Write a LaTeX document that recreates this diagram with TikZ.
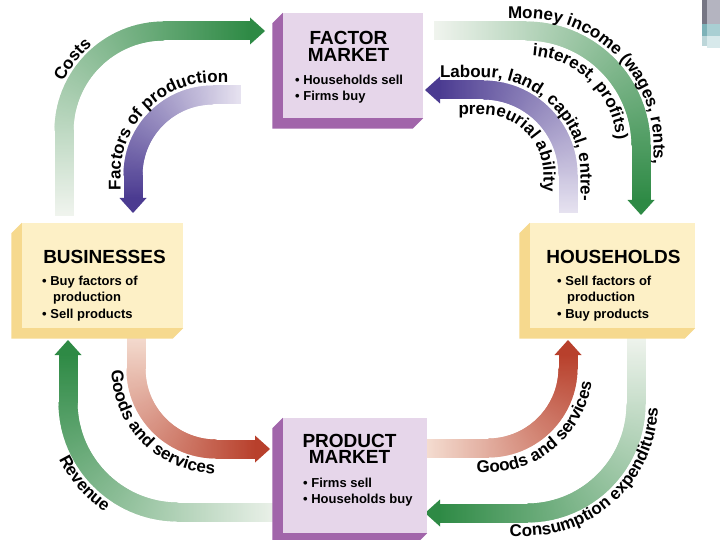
\documentclass[tikz,border=0pt]{standalone}
\usepackage{fontspec}
\setmainfont{Liberation Sans}
\usetikzlibrary{decorations.markings,decorations.text,calc}
\definecolor{gdark}{HTML}{2E8A45}
\definecolor{gpale}{HTML}{F0F4EE}
\definecolor{pdark}{HTML}{4B3B91}
\definecolor{ppale}{HTML}{E6E2F0}
\definecolor{rdark}{HTML}{B8402C}
\definecolor{rpale}{HTML}{F4DCD0}
\definecolor{mkfront}{HTML}{E6D6EA}
\definecolor{mkside}{HTML}{A165AA}
\definecolor{agfront}{HTML}{FDF0C6}
\definecolor{agside}{HTML}{F6D98E}
\newcommand{\lblf}{\fontsize{17pt}{17pt}\selectfont\bfseries}
\tikzset{
  band/.style n args={2}{postaction={decorate, decoration={markings,
     mark=between positions 0 and 1 step 1.2pt with {
       \pgfmathsetmacro{\fr}{min(100,max(0,100*(\pgfkeysvalueof{/pgf/decoration/mark info/distance from start}/\pgfdecoratedpathlength)))}
       \fill[#2!\fr!#1] (-1pt,-9.5pt) rectangle (1pt,9.5pt);
     }
  }}},
  lbl/.style={decorate, decoration={text along path, text align=center, text={|\lblf|#1}}},
  front/.style={draw=none, inner sep=0pt, minimum width=#1},
  ttl/.style={inner sep=0pt, anchor=base, font=\fontsize{19pt}{19pt}\selectfont\bfseries},
  bul/.style={inner sep=0pt, anchor=base west, font=\fontsize{13pt}{13pt}\selectfont\bfseries},
}
\begin{document}
\begin{tikzpicture}[x=1pt,y=1pt]
\useasboundingbox (0,0) rectangle (720,-540);
\fill[white] (0,0) rectangle (720,-540);
% slide decoration (top right)
\fill[fill={rgb,255:red,118;green,118;blue,132}] (702,0) rectangle (707,-24);
\fill[fill={rgb,255:red,180;green,180;blue,192}] (707,0) rectangle (720,-24);
\fill[fill={rgb,255:red,125;green,178;blue,184}] (702,-24) rectangle (707,-36);
\fill[fill={rgb,255:red,169;green,207;blue,211}] (707,-24) rectangle (720,-36);
\fill[fill={rgb,255:red,188;green,214;blue,217}] (702,-36) rectangle (707,-46);
\fill[fill={rgb,255:red,215;green,233;blue,235}] (707,-36) rectangle (720,-48);

% ---- bands ----
\coordinate (csS) at (64,-215);   \coordinate (csE) at (251,-31);
\coordinate (fpS) at (240,-95);   \coordinate (fpE) at (133,-199);
\coordinate (miS) at (435,-31);   \coordinate (miE) at (641,-201);
\coordinate (lbS) at (568,-212);  \coordinate (lbE) at (439,-90);
\coordinate (glS) at (136,-336);  \coordinate (glE) at (256,-449);
\coordinate (rvS) at (284,-512);  \coordinate (rvE) at (68,-354);
\coordinate (grS) at (428,-448);  \coordinate (grE) at (568,-354);
\coordinate (ceS) at (636,-336);  \coordinate (ceE) at (439,-513);

\path[band={gpale}{gdark}] (csS) -- (64,-131) arc[start angle=180,end angle=90,radius=100] -- (csE);
\path[band={ppale}{pdark}] (fpS) -- (213,-95) arc[start angle=90,end angle=180,radius=80] -- (fpE);
\path[band={gpale}{gdark}] (miS) -- (526,-31) arc[start angle=90,end angle=0,radius=115] -- (miE);
\path[band={ppale}{pdark}] (lbS) -- (568,-175) arc[start angle=0,end angle=90,radius=85] -- (lbE);
\path[band={rpale}{rdark}] (glS) -- (136,-369) arc[start angle=180,end angle=270,radius=80] -- (glE);
\path[band={gpale}{gdark}] (rvS) -- (178,-512) arc[start angle=270,end angle=180,radius=110] -- (rvE);
\path[band={rpale}{rdark}] (grS) -- (488,-448) arc[start angle=270,end angle=360,radius=80] -- (grE);
\path[band={gpale}{gdark}] (ceS) -- (636,-404) arc[start angle=0,end angle=-90,radius=109] -- (ceE);

% ---- arrowheads ----
\fill[gdark] (csE) ++(-1,13.5) -- ++(15,-13.5) -- ++(-15,-13.5) -- cycle;
\fill[pdark] (fpE) ++(-13.5,1) -- ++(13.5,-15) -- ++(13.5,15) -- cycle;
\fill[gdark] (miE) ++(-13.5,1) -- ++(13.5,-15) -- ++(13.5,15) -- cycle;
\fill[pdark] (lbE) ++(1,13.5) -- ++(-15,-13.5) -- ++(15,-13.5) -- cycle;
\fill[rdark] (glE) ++(-1,13.5) -- ++(15,-13.5) -- ++(-15,-13.5) -- cycle;
\fill[gdark] (rvE) ++(-13.5,-1) -- ++(13.5,15) -- ++(13.5,-15) -- cycle;
\fill[rdark] (grE) ++(-13.5,-1) -- ++(13.5,15) -- ++(13.5,-15) -- cycle;
\fill[gdark] (ceE) ++(1,13.5) -- ++(-15,-13.5) -- ++(15,-13.5) -- cycle;

% ---- curved labels ----
\path[lbl={Costs}] (52,-131) arc[start angle=180,end angle=104,radius=112];
\path[lbl={Factors of production}] (120.5,-235) -- (120.5,-175) arc[start angle=180,end angle=90,radius=92.5] -- (273,-82.5);
\path[lbl={Money income (wages, rents,}] (466,-18.5) -- (526,-18.5) arc[start angle=90,end angle=0,radius=127.5] -- (653.5,-206);
\path[lbl={interest, profits)}] (486,-55.5) -- (526,-55.5) arc[start angle=90,end angle=0,radius=90.5] -- (616.5,-186);
\path[lbl={Labour, land, capital, entre-}] (413,-77.5) -- (483,-77.5) arc[start angle=90,end angle=0,radius=97.5] -- (580.5,-228);
\path[lbl={preneurial ability}] (443,-114.5) -- (483,-114.5) arc[start angle=90,end angle=0,radius=60.5] -- (543.5,-207);
\path[lbl={Goods and services}] (111.5,-339) -- (111.5,-369) arc[start angle=180,end angle=270,radius=104.5] -- (246,-473.5);
\path[lbl={Revenue}] (46,-402) arc[start angle=180,end angle=262,radius=132];
\path[lbl={Goods and services}] (448,-472.5) -- (488,-472.5) arc[start angle=270,end angle=360,radius=104.5] -- (592.5,-353.4);
\path[lbl={Consumption expenditures}] (486,-536) -- (526,-536) arc[start angle=270,end angle=360,radius=132] -- (658,-384);

% ---- boxes ----
\node[front=140pt, minimum height=105pt, fill=mkfront] (factor) at (353,-65.5) {};
\node[front=161pt, minimum height=105pt, fill=agfront] (bus) at (102.5,-275.5) {};
\node[front=165pt, minimum height=105pt, fill=agfront] (house) at (612.5,-275.5) {};
\node[front=144pt, minimum height=115pt, fill=mkfront] (product) at (355,-475.5) {};
\foreach \b/\c in {factor/mkside, bus/agside, house/agside, product/mkside}{
  \fill[\c] (\b.north west) -- ++(-10.5,-10.5) |- ($(\b.south east)+(-10.5,-10.5)$) -- (\b.south east) -- (\b.south west) -- cycle;
}

% ---- box texts ----
\node[ttl] (fa1) at (348.5,-45) {FACTOR};
\node[ttl] (fa2) at (348.5,-62) {MARKET};
\node[bul] (fa3) at (295,-85) {• Households sell};
\node[bul] (fa4) at (295,-101) {• Firms buy};

\node[ttl] (bu1) at (104.5,-263) {BUSINESSES};
\node[bul] (bu2) at (42,-285) {• Buy factors of};
\node[bul] (bu3) at (53,-301) {production};
\node[bul] (bu4) at (42,-318) {• Sell products};

\node[ttl] (ho1) at (613.5,-263) {HOUSEHOLDS};
\node[bul] (ho2) at (557,-285) {• Sell factors of};
\node[bul] (ho3) at (567,-301) {production};
\node[bul] (ho4) at (557,-318) {• Buy products};

\node[ttl] (pm1) at (349.5,-447) {PRODUCT};
\node[ttl] (pm2) at (349.5,-463.5) {MARKET};
\node[bul] (pm3) at (303,-487) {• Firms sell};
\node[bul] (pm4) at (303,-503) {• Households buy};
\end{tikzpicture}
\end{document}
